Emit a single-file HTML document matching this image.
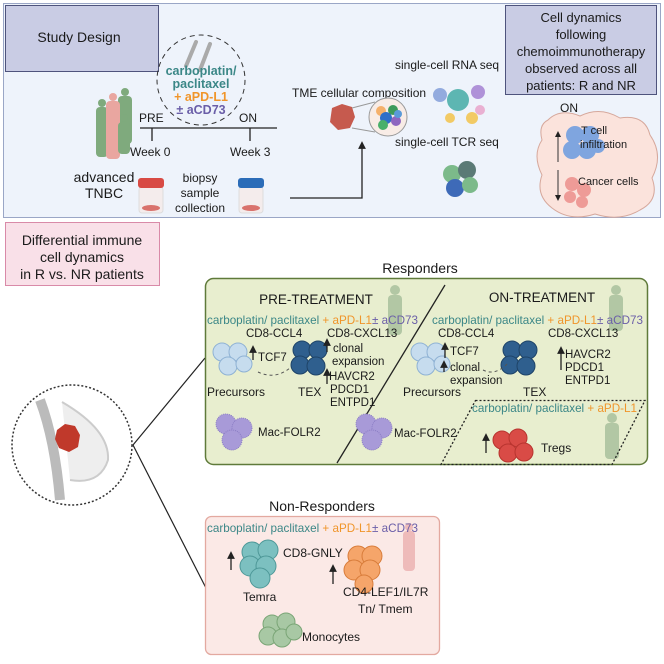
<!DOCTYPE html>
<html><head><meta charset="utf-8"><style>
html,body{margin:0;padding:0;background:#fff}
svg{display:block}
text{font-family:"Liberation Sans",sans-serif;fill:#1a1a1a}
</style></head><body>
<svg width="664" height="664" viewBox="0 0 664 664" xmlns="http://www.w3.org/2000/svg">
<defs>
<marker id="ah" markerWidth="6" markerHeight="6" refX="3" refY="3" orient="auto"><path d="M0,0 L6,3 L0,6 z" fill="#222"/></marker>
</defs>
<!-- TOP PANEL -->
<rect x="3.5" y="3.5" width="657" height="214" fill="#eef3fb" stroke="#9aa6c6"/>
<rect x="5.5" y="5.5" width="153" height="66" fill="#c9cce4" stroke="#4e537c"/>
<text x="79" y="42" font-size="14" text-anchor="middle">Study Design</text>
<rect x="505.5" y="5.5" width="151" height="89" fill="#c9cce4" stroke="#4e537c"/>
<g font-size="13" text-anchor="middle">
<text x="581" y="22">Cell dynamics</text><text x="581" y="39">following</text>
<text x="581" y="56">chemoimmunotherapy</text><text x="581" y="73">observed across all</text>
<text x="581" y="90">patients: R and NR</text></g>
<!-- dashed circle -->
<ellipse cx="201" cy="80" rx="44" ry="45" fill="none" stroke="#333" stroke-dasharray="5,4"/>
<g stroke="#aaa" stroke-width="4" stroke-linecap="round"><line x1="186" y1="66" x2="196" y2="42"/><line x1="200" y1="70" x2="210" y2="44"/></g>
<g font-size="12.5" font-weight="bold" text-anchor="middle">
<text x="201" y="75" style="fill:#3b8787">carboplatin/</text>
<text x="201" y="88" style="fill:#3b8787">paclitaxel</text>
<text x="201" y="101" style="fill:#f0952a">+ aPD-L1</text>
<text x="201" y="114" style="fill:#6a5ea8">± aCD73</text></g>
<!-- people -->
<g fill="#7faa7d"><circle cx="125" cy="92" r="4"/><rect x="118" y="96" width="14" height="48" rx="4"/>
<circle cx="102" cy="103" r="4"/><rect x="96" y="107" width="12" height="50" rx="4"/></g>
<g fill="#e9a6a0"><circle cx="113" cy="97" r="4"/><rect x="106" y="101" width="14" height="58" rx="4"/></g>
<g fill="#7faa7d"><circle cx="124" cy="118" r="4"/><rect x="118" y="122" width="12" height="32" rx="4"/></g>
<!-- timeline -->
<g font-size="12"><text x="139" y="122">PRE</text><text x="239" y="122">ON</text>
<text x="130" y="156">Week 0</text><text x="230" y="156">Week 3</text></g>
<g stroke="#222" stroke-width="1.3"><line x1="140" y1="128" x2="277" y2="128"/><line x1="152" y1="128" x2="152" y2="141"/><line x1="250" y1="128" x2="250" y2="141"/></g>
<g font-size="14" text-anchor="middle"><text x="104" y="182">advanced</text><text x="104" y="198">TNBC</text></g>
<g font-size="12" text-anchor="middle"><text x="200" y="182">biopsy</text><text x="200" y="197">sample</text><text x="200" y="212">collection</text></g>
<rect x="139" y="187" width="24" height="26" rx="3" fill="#f4ecec" stroke="#ddd"/><ellipse cx="151" cy="208" rx="9" ry="3" fill="#d9726c"/><rect x="138" y="178" width="26" height="10" rx="3" fill="#d84a44"/>
<rect x="239" y="187" width="24" height="26" rx="3" fill="#f4ecec" stroke="#ddd"/><ellipse cx="251" cy="208" rx="9" ry="3" fill="#d9726c"/><rect x="238" y="178" width="26" height="10" rx="3" fill="#2b6cb8"/>
<path d="M290,198 H362 V145" fill="none" stroke="#222" stroke-width="1.3" marker-end="url(#ah)"/>
<text x="292" y="97" font-size="12">TME cellular composition</text>
<path d="M332,108 l10,-4 l10,3 l3,10 l-5,11 l-12,2 l-8,-8 z" fill="#c65a4e"/>
<line x1="352" y1="108" x2="375" y2="102" stroke="#999"/><line x1="352" y1="128" x2="375" y2="132" stroke="#999"/>
<circle cx="388" cy="117" r="19" fill="#f8ece6" stroke="#999"/>
<circle cx="381" cy="111" r="5" fill="#f5b06a"/><circle cx="393" cy="110" r="5" fill="#3e9a5a"/><circle cx="386" cy="118" r="6" fill="#2f6fc8"/><circle cx="396" cy="121" r="5" fill="#8e66c0"/><circle cx="383" cy="125" r="5" fill="#49b06a"/><circle cx="398" cy="114" r="4" fill="#5a9ad8"/>
<text x="395" y="69" font-size="12">single-cell RNA seq</text>
<g opacity="0.8"><circle cx="440" cy="95" r="7" fill="#7d9ad8"/><circle cx="458" cy="100" r="11" fill="#3aa8a0"/><circle cx="478" cy="92" r="7" fill="#a07ad0"/><circle cx="480" cy="110" r="5" fill="#e9a0c8"/><circle cx="450" cy="118" r="5" fill="#f3c040"/><circle cx="472" cy="118" r="6" fill="#f3c040"/></g>
<text x="395" y="146" font-size="12">single-cell TCR seq</text>
<circle cx="452" cy="174" r="9" fill="#7cba8a"/><circle cx="467" cy="170" r="9" fill="#5b7a76"/><circle cx="455" cy="188" r="9" fill="#3e6ab8"/><circle cx="470" cy="185" r="8" fill="#7cba8a"/>
<text x="560" y="112" font-size="12">ON</text>
<path d="M548,120 Q560,108 580,116 Q600,106 620,118 Q645,114 650,135 Q664,155 652,178 Q660,200 640,210 Q620,222 595,214 Q570,222 552,208 Q535,195 542,175 Q532,155 542,140 Q538,125 548,120 z" fill="#fbe3dc" stroke="#d6a89c"/>
<g fill="#6a9be0" opacity="0.85"><circle cx="575" cy="135" r="9"/><circle cx="590" cy="135" r="9"/><circle cx="572" cy="150" r="9"/><circle cx="587" cy="150" r="9"/><circle cx="598" cy="146" r="7"/></g>
<g fill="#ec8a86" opacity="0.8"><circle cx="572" cy="184" r="7"/><circle cx="584" cy="190" r="7"/><circle cx="570" cy="197" r="6"/><circle cx="582" cy="202" r="6"/></g>
<g font-size="11"><text x="581" y="134">T cell</text><text x="580" y="148">infiltration</text><text x="578" y="185">Cancer  cells</text></g>
<line x1="558" y1="162" x2="558" y2="134" stroke="#333" marker-end="url(#ah)"/><line x1="558" y1="170" x2="558" y2="198" stroke="#333" marker-end="url(#ah)"/>
<!-- Differential box -->
<rect x="5.5" y="222.5" width="154" height="63" fill="#f9e0e8" stroke="#d98aa8"/>
<g font-size="14" text-anchor="middle"><text x="82" y="245">Differential immune</text><text x="82" y="262">cell dynamics</text><text x="82" y="279">in R vs. NR patients</text></g>
<!-- breast -->
<circle cx="72" cy="445" r="60" fill="#fff" stroke="#333" stroke-width="1.5" stroke-dasharray="2,2"/>
<path d="M40,400 Q55,440 60,500" stroke="#bbb" stroke-width="10" fill="none"/>
<path d="M62,402 Q110,430 108,460 Q100,485 70,480" stroke="#ccc" stroke-width="2" fill="#eee"/>
<path d="M57,430 l8,-6 l10,2 l5,9 l-2,12 l-9,5 l-10,-4 l-4,-9 z" fill="#c0392b"/>
<line x1="133" y1="445" x2="205" y2="358" stroke="#222" stroke-width="1.2"/>
<line x1="133" y1="445" x2="207" y2="590" stroke="#222" stroke-width="1.2"/>
<!-- RESPONDERS -->
<text x="420" y="273" font-size="14" text-anchor="middle">Responders</text>
<rect x="205.5" y="278.5" width="442" height="186" rx="8" fill="#e8eecf" stroke="#5f7a3a" stroke-width="1.5"/>
<!-- patients in boxes -->
<g fill="#8fae88" opacity="0.6"><circle cx="395" cy="290" r="5"/><rect x="388" y="295" width="14" height="40" rx="4"/><circle cx="616" cy="290" r="5"/><rect x="609" y="295" width="14" height="36" rx="4"/><circle cx="612" cy="418" r="5"/><rect x="605" y="423" width="14" height="36" rx="4"/></g>
<line x1="445" y1="285" x2="337" y2="463" stroke="#222" stroke-width="1.3"/>
<g font-size="13.5" text-anchor="middle"><text x="316" y="304">PRE-TREATMENT</text><text x="542" y="302">ON-TREATMENT</text></g>
<g font-size="12"><text x="207" y="324" textLength="211" lengthAdjust="spacingAndGlyphs"><tspan style="fill:#3b8787">carboplatin/ paclitaxel</tspan><tspan style="fill:#f0952a"> + aPD-L1</tspan><tspan style="fill:#6a5ea8">± aCD73</tspan></text>
<text x="432" y="324" textLength="211" lengthAdjust="spacingAndGlyphs"><tspan style="fill:#3b8787">carboplatin/ paclitaxel</tspan><tspan style="fill:#f0952a"> + aPD-L1</tspan><tspan style="fill:#6a5ea8">± aCD73</tspan></text></g>
<g font-size="11.5"><text x="246" y="337">CD8-CCL4</text><text x="327" y="337">CD8-CXCL13</text><text x="438" y="337">CD8-CCL4</text><text x="548" y="337">CD8-CXCL13</text>
<text x="258" y="361">TCF7</text><text x="333" y="352">clonal</text><text x="332" y="365">expansion</text>
<text x="329" y="380">HAVCR2</text><text x="330" y="393">PDCD1</text><text x="330" y="406">ENTPD1</text>
<text x="207" y="396" font-size="12">Precursors</text><text x="298" y="396" font-size="12">TEX</text>
<text x="258" y="436">Mac-FOLR2</text>
<text x="450" y="355">TCF7</text><text x="450" y="371">clonal</text><text x="450" y="384">expansion</text>
<text x="565" y="358">HAVCR2</text><text x="565" y="371">PDCD1</text><text x="565" y="384">ENTPD1</text>
<text x="403" y="396" font-size="12">Precursors</text><text x="523" y="396" font-size="12">TEX</text>
<text x="394" y="437">Mac-FOLR2</text></g>
<g fill="#c6dcee" stroke="#8fb2d4"><circle cx="222" cy="352" r="9"/><circle cx="238" cy="352" r="9"/><circle cx="228" cy="366" r="9"/><circle cx="244" cy="364" r="8"/>
<circle cx="420" cy="352" r="9"/><circle cx="436" cy="352" r="9"/><circle cx="426" cy="366" r="9"/><circle cx="442" cy="364" r="8"/></g>
<g fill="#2f5f8e" stroke="#1f4468"><circle cx="302" cy="350" r="9"/><circle cx="318" cy="350" r="9"/><circle cx="300" cy="365" r="9"/><circle cx="316" cy="366" r="9"/>
<circle cx="512" cy="350" r="9"/><circle cx="528" cy="350" r="9"/><circle cx="510" cy="365" r="9"/><circle cx="526" cy="366" r="9"/></g>
<g fill="#a89ad8" stroke="#8a7cc4" stroke-dasharray="1,1"><circle cx="226" cy="424" r="10"/><circle cx="242" cy="428" r="10"/><circle cx="232" cy="440" r="10"/>
<circle cx="366" cy="424" r="10"/><circle cx="382" cy="428" r="10"/><circle cx="372" cy="440" r="10"/></g>
<g stroke="#222" stroke-width="1.3"><line x1="253" y1="360" x2="253" y2="349" marker-end="url(#ah)"/><line x1="327" y1="352" x2="327" y2="342" marker-end="url(#ah)"/><line x1="327" y1="384" x2="327" y2="372" marker-end="url(#ah)"/>
<line x1="445" y1="358" x2="445" y2="346" marker-end="url(#ah)"/><line x1="444" y1="372" x2="444" y2="364" marker-end="url(#ah)"/><line x1="561" y1="370" x2="561" y2="350" marker-end="url(#ah)"/>
<line x1="486" y1="453" x2="486" y2="437" marker-end="url(#ah)"/></g>
<path d="M258,372 Q275,380 290,368" fill="none" stroke="#555" stroke-dasharray="3,3"/>
<path d="M483,370 Q495,376 507,364" fill="none" stroke="#555" stroke-dasharray="3,3"/>
<path d="M475.5,400.5 H645 L612,464.5 H441 Z" fill="none" stroke="#222" stroke-dasharray="2,2" stroke-width="1.3"/>
<text x="472" y="412" font-size="12" textLength="165" lengthAdjust="spacingAndGlyphs"><tspan style="fill:#3b8787">carboplatin/ paclitaxel</tspan><tspan style="fill:#f0952a"> + aPD-L1</tspan></text>
<g fill="#d94b46" stroke="#b8342f"><circle cx="502" cy="440" r="9"/><circle cx="518" cy="438" r="9"/><circle cx="508" cy="453" r="9"/><circle cx="524" cy="452" r="9"/></g>
<text x="541" y="452" font-size="12">Tregs</text>
<!-- NON-RESPONDERS -->
<text x="322" y="511" font-size="14" text-anchor="middle">Non-Responders</text>
<rect x="205.5" y="516.5" width="234" height="138" rx="6" fill="#fbe9e6" stroke="#e3a9a0" stroke-width="1.3"/>
<g fill="#e9a8a8" opacity="0.7"><circle cx="409" cy="527" r="4"/><rect x="403" y="531" width="12" height="40" rx="4"/></g>
<text x="207" y="532" font-size="12" textLength="211" lengthAdjust="spacingAndGlyphs"><tspan style="fill:#3b8787">carboplatin/ paclitaxel</tspan><tspan style="fill:#f0952a"> + aPD-L1</tspan><tspan style="fill:#6a5ea8">± aCD73</tspan></text>
<g fill="#7cc0c0" stroke="#4e9898"><circle cx="252" cy="552" r="10"/><circle cx="268" cy="550" r="10"/><circle cx="250" cy="566" r="10"/><circle cx="266" cy="566" r="10"/><circle cx="260" cy="578" r="10"/></g>
<g fill="#f5a56a" stroke="#d87c3a"><circle cx="358" cy="556" r="10"/><circle cx="372" cy="556" r="10"/><circle cx="354" cy="570" r="10"/><circle cx="370" cy="570" r="10"/><circle cx="364" cy="584" r="9"/></g>
<g fill="#a8c8a4" stroke="#7aa576"><circle cx="272" cy="624" r="9"/><circle cx="286" cy="622" r="9"/><circle cx="268" cy="636" r="9"/><circle cx="282" cy="638" r="9"/><circle cx="294" cy="632" r="8"/></g>
<g stroke="#222" stroke-width="1.3"><line x1="231" y1="570" x2="231" y2="555" marker-end="url(#ah)"/><line x1="333" y1="584" x2="333" y2="568" marker-end="url(#ah)"/></g>
<g font-size="12"><text x="283" y="557">CD8-GNLY</text><text x="243" y="601">Temra</text><text x="343" y="596">CD4-LEF1/IL7R</text><text x="358" y="613">Tn/ Tmem</text><text x="302" y="641">Monocytes</text></g>
</svg>
</body></html>
